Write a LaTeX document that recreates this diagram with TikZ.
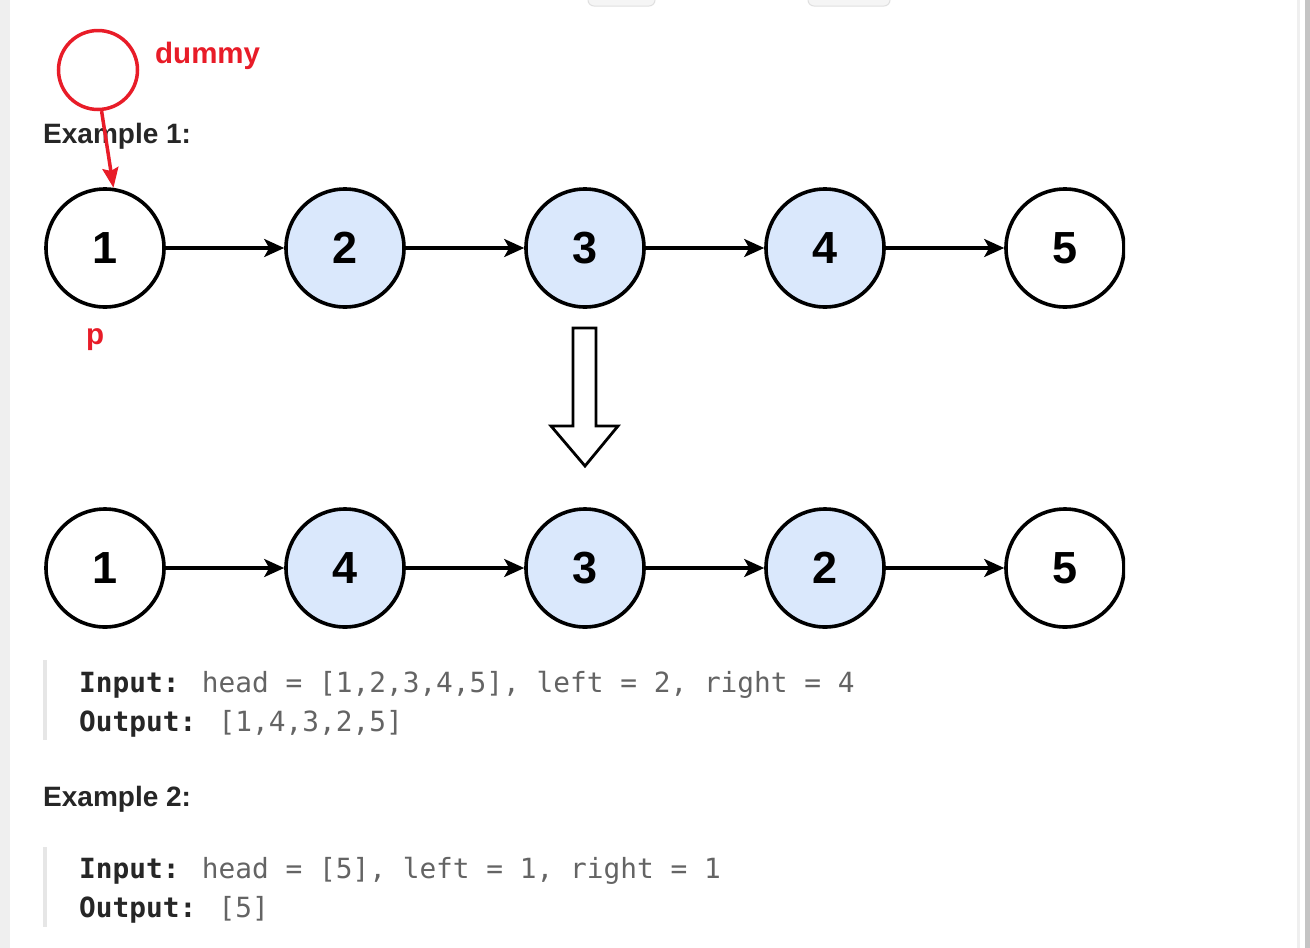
\documentclass[tikz,border=0pt]{standalone}
\usepackage{fontspec}
\setmainfont{Liberation Sans}
\newfontfamily\monofnt{DejaVu Sans Mono}
\usetikzlibrary{arrows.meta}
\definecolor{redd}{RGB}{232,28,40}
\definecolor{nodeblue}{RGB}{218,232,252}
\definecolor{txtdark}{RGB}{38,38,38}
\definecolor{txtgray}{RGB}{100,100,100}
\definecolor{barcol}{RGB}{230,230,230}
\definecolor{stripcol}{RGB}{239,239,239}
\definecolor{scrollcol}{RGB}{196,196,196}
\begin{document}
\begin{tikzpicture}[x=1pt,y=-1pt,
  listnode/.style={circle,draw=black,line width=3.6pt,minimum size=118pt,inner sep=0pt,font=\fontsize{45}{45}\selectfont\bfseries},
  bluenode/.style={listnode,fill=nodeblue},
  whitenode/.style={listnode,fill=white},
  link/.style={-{Stealth[length=20pt,width=18pt,inset=5pt]},line width=3.2pt},
  heading/.style={anchor=base west,inner sep=0pt,font=\fontsize{28}{28}\selectfont\bfseries,text=txtdark},
  codeline/.style={anchor=base west,inner sep=0pt,font=\monofnt\fontsize{27.8}{27.8}\selectfont,text=txtgray},
  redlabel/.style={anchor=base west,inner sep=0pt,font=\fontsize{29.5}{29.5}\selectfont\bfseries,text=redd},
  quotebar/.style={fill=barcol,draw=none},
  uibutton/.style={fill=black!4,draw=black!12,line width=1pt,rounded corners=6pt}]
% background
\fill[white] (0,0) rectangle (1310,948);
\useasboundingbox (0,0) rectangle (1310,948);
\fill[stripcol] (0,0) rectangle (10,948);
\fill[stripcol] (1297,0) rectangle (1300,948);
\fill[scrollcol] (1305,0) rectangle (1310,948);
\draw[uibutton] (588,-12) rectangle (655,6);
\draw[uibutton] (808,-12) rectangle (890,6);
% diagram
\begin{scope}
\clip (0,150) rectangle (1125,628);
\node[whitenode] (a1) at (105,248) {1};
\node[bluenode]  (a2) at (345,248) {2};
\node[bluenode]  (a3) at (585,248) {3};
\node[bluenode]  (a4) at (825,248) {4};
\node[whitenode] (a5) at (1065,248) {5};
\draw[link] (a1) -- (a2);
\draw[link] (a2) -- (a3);
\draw[link] (a3) -- (a4);
\draw[link] (a4) -- (a5);
\node[whitenode] (b1) at (105,568) {1};
\node[bluenode]  (b2) at (345,568) {4};
\node[bluenode]  (b3) at (585,568) {3};
\node[bluenode]  (b4) at (825,568) {2};
\node[whitenode] (b5) at (1065,568) {5};
\draw[link] (b1) -- (b2);
\draw[link] (b2) -- (b3);
\draw[link] (b3) -- (b4);
\draw[link] (b4) -- (b5);
\end{scope}
% hollow down arrow
\draw[line width=2.8pt,fill=white,line join=miter]
  (573,328) -- (596,328) -- (596,426) -- (618,426) -- (585,466) -- (551,426) -- (573,426) -- cycle;
% texts
\node[heading] (ex1) at (43,143) {Example 1:};
\node[heading] (ex2) at (43,806) {Example 2:};
\fill[quotebar] (43,660) rectangle (47,740);
\fill[quotebar] (43,847) rectangle (47,927);
\node[codeline] (in1) at (79,692) {\textcolor{txtdark}{\bfseries Input:} head = [1,2,3,4,5], left = 2, right = 4};
\node[codeline] (out1) at (79,731) {\textcolor{txtdark}{\bfseries Output:} [1,4,3,2,5]};
\node[codeline] (in2) at (79,878) {\textcolor{txtdark}{\bfseries Input:} head = [5], left = 1, right = 1};
\node[codeline] (out2) at (79,917) {\textcolor{txtdark}{\bfseries Output:} [5]};
% dummy
\node[circle,draw=redd,line width=3.5pt,minimum size=79pt,inner sep=0pt,fill=white] (dummy) at (98,70) {};
\node[redlabel] (dlab) at (155,63) {dummy};
\node[redlabel] (plab) at (86,344) {p};
\draw[-{Stealth[length=20pt,width=16pt,inset=3pt]},line width=3.5pt,draw=redd,fill=redd] (dummy.-85) -- (a1.82);
\end{tikzpicture}
\end{document}
